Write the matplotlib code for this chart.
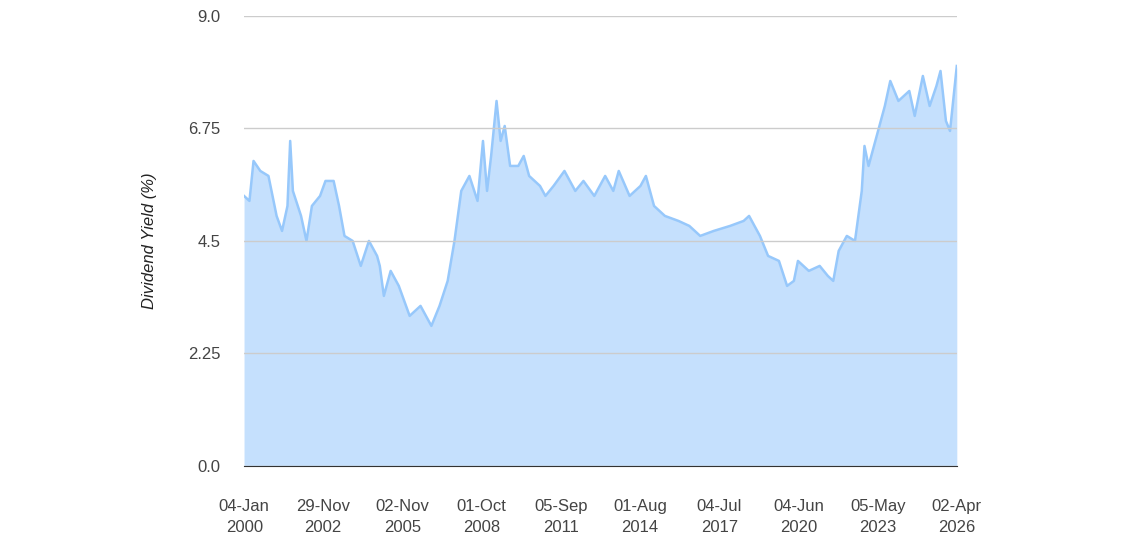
import matplotlib
matplotlib.use("Agg")
import matplotlib.pyplot as plt

years = [2000.0,2000.2,2000.35,2000.6,2000.9,2001.2,2001.4,2001.6,2001.7,2001.8,2002.1,2002.3,2002.5,2002.8,2003.0,2003.3,2003.5,2003.7,2004.0,2004.3,2004.6,2004.9,2005.0,2005.15,2005.4,2005.7,2006.1,2006.5,2006.9,2007.2,2007.5,2007.75,2008.0,2008.3,2008.6,2008.8,2008.95,2009.1,2009.3,2009.45,2009.6,2009.8,2010.1,2010.3,2010.5,2010.9,2011.1,2011.4,2011.8,2012.2,2012.5,2012.9,2013.3,2013.6,2013.8,2014.2,2014.6,2014.8,2015.1,2015.5,2016.0,2016.4,2016.8,2017.3,2017.9,2018.4,2018.6,2019.0,2019.3,2019.7,2020.0,2020.25,2020.4,2020.8,2021.2,2021.5,2021.7,2021.9,2022.2,2022.5,2022.75,2022.85,2023.0,2023.3,2023.6,2023.8,2024.1,2024.5,2024.7,2025.0,2025.25,2025.5,2025.65,2025.85,2026.0,2026.25]
yields = [5.4,5.3,6.1,5.9,5.8,5.0,4.7,5.2,6.5,5.5,5.0,4.5,5.2,5.4,5.7,5.7,5.2,4.6,4.5,4.0,4.5,4.2,4.0,3.4,3.9,3.6,3.0,3.2,2.8,3.2,3.7,4.5,5.5,5.8,5.3,6.5,5.5,6.2,7.3,6.5,6.8,6.0,6.0,6.2,5.8,5.6,5.4,5.6,5.9,5.5,5.7,5.4,5.8,5.5,5.9,5.4,5.6,5.8,5.2,5.0,4.9,4.8,4.6,4.7,4.8,4.9,5.0,4.6,4.2,4.1,3.6,3.7,4.1,3.9,4.0,3.8,3.7,4.3,4.6,4.5,5.5,6.4,6.0,6.6,7.2,7.7,7.3,7.5,7.0,7.8,7.2,7.6,7.9,6.9,6.7,8.0]
tick_pos = [2000.01,2002.91,2005.84,2008.75,2011.68,2014.58,2017.50,2020.42,2023.34,2026.25]
tick_labels = ["04-Jan\n2000","29-Nov\n2002","02-Nov\n2005","01-Oct\n2008","05-Sep\n2011","01-Aug\n2014","04-Jul\n2017","04-Jun\n2020","05-May\n2023","02-Apr\n2026"]
y_ticks = [0.0,2.25,4.5,6.75,9.0]

plt.rcParams['font.family'] = ['Liberation Sans', 'DejaVu Sans']
fig = plt.figure(figsize=(11.35,5.33), dpi=100)
ax = fig.add_axes([0.215,0.126,0.628,0.844])
ax.fill_between(years, yields, 0, color='#c5e0fd', lw=0)
ax.plot(years, yields, color='#97c8fb', lw=1.8)
ax.set_xlim(2000.0, 2026.25)
ax.set_ylim(0, 9)
ax.set_yticks(y_ticks)
ax.set_yticklabels(["0.0","2.25","4.5","6.75","9.0"])
ax.set_xticks(tick_pos)
ax.set_xticklabels(tick_labels, linespacing=1.45)
ax.grid(axis='y', color='#cccccc', lw=1)
ax.set_axisbelow(False)
for s in ['top','right','left']:
    ax.spines[s].set_visible(False)
ax.spines['bottom'].set_color('#333333')
ax.tick_params(axis='y', length=0, labelsize=12, colors='#444444', pad=17)
ax.tick_params(axis='x', length=0, labelsize=12, colors='#444444', pad=24)
ax.set_ylabel("Dividend Yield (%)", style='italic', fontsize=12, color='#222222', labelpad=22)
fig.savefig("out.png", dpi=100)
